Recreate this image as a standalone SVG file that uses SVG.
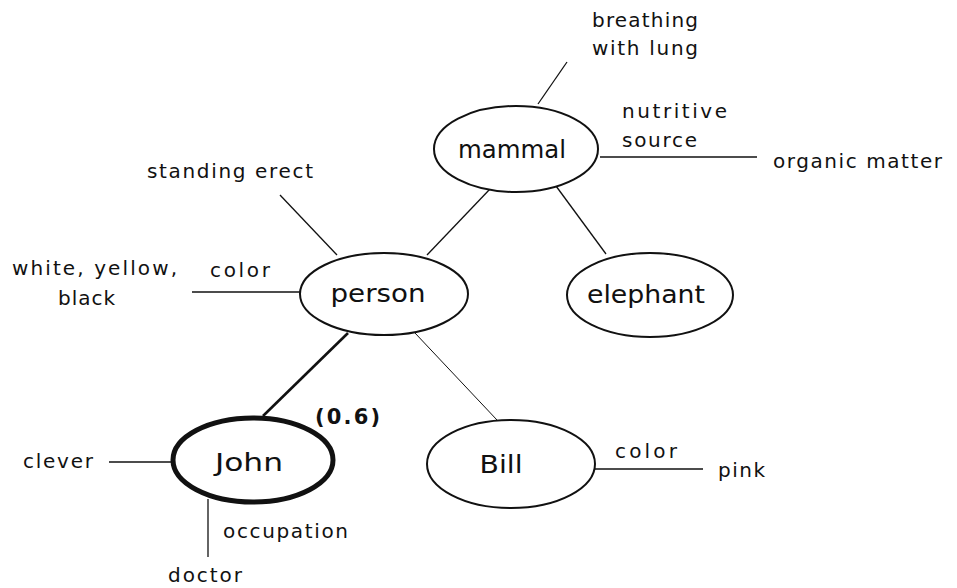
<svg xmlns="http://www.w3.org/2000/svg" width="957" height="588" viewBox="0 0 957 588">
  <style>
    text { font-family: "DejaVu Sans", "Liberation Sans", sans-serif; fill: #111; }
    .lbl { font-size: 20px; }
    .name { font-size: 25px; text-anchor: middle; dominant-baseline: central; }
    .node { fill: #fff; stroke: #111; stroke-width: 2; }
    .link { stroke: #111; stroke-width: 1.3; fill: none; }
  </style>
  <rect width="957" height="588" fill="#fff"/>

  <!-- connectors -->
  <g id="connectors">
    <line class="link" x1="567" y1="62" x2="538" y2="104"/>
    <line class="link" x1="600" y1="157" x2="757" y2="157"/>
    <line class="link" x1="490" y1="189" x2="427" y2="255"/>
    <line class="link" x1="556" y1="186" x2="606" y2="254"/>
    <line class="link" x1="280" y1="195" x2="337" y2="255"/>
    <line class="link" x1="192" y1="292" x2="300" y2="292"/>
    <line class="link" x1="348" y1="333" x2="263" y2="416" style="stroke-width:2.6"/>
    <line class="link" x1="415" y1="333" x2="497" y2="420" style="stroke-width:1"/>
    <line class="link" x1="109" y1="462" x2="172" y2="462"/>
    <line class="link" x1="208" y1="499" x2="208" y2="557"/>
    <line class="link" x1="594" y1="469" x2="703" y2="469"/>
  </g>

  <g id="mammal">
    <ellipse class="node" cx="516" cy="149" rx="82" ry="43"/>
    <text class="name" x="512" y="149" textLength="108" lengthAdjust="spacingAndGlyphs">mammal</text>
  </g>
  <g id="person">
    <ellipse class="node" cx="384" cy="294" rx="84" ry="41"/>
    <text class="name" x="378" y="293" textLength="95" lengthAdjust="spacingAndGlyphs">person</text>
  </g>
  <g id="elephant">
    <ellipse class="node" cx="650" cy="295" rx="83" ry="42"/>
    <text class="name" x="646" y="294" textLength="118" lengthAdjust="spacingAndGlyphs">elephant</text>
  </g>
  <g id="john">
    <ellipse class="node" cx="253" cy="460" rx="80" ry="42" style="stroke-width:5"/>
    <text class="name" x="249" y="462" textLength="68" lengthAdjust="spacingAndGlyphs">John</text>
  </g>
  <g id="bill">
    <ellipse class="node" cx="511" cy="464" rx="84" ry="44"/>
    <text class="name" x="501" y="464" textLength="43" lengthAdjust="spacingAndGlyphs">Bill</text>
  </g>

  <!-- attribute labels -->
  <g id="labels">
    <text class="lbl" x="592" y="27" textLength="106">breathing</text>
    <text class="lbl" x="592" y="55" textLength="106">with lung</text>
    <text class="lbl" x="622" y="118" textLength="105">nutritive</text>
    <text class="lbl" x="622" y="147" textLength="75">source</text>
    <text class="lbl" x="773" y="168" textLength="169">organic matter</text>
    <text class="lbl" x="147" y="178" textLength="166">standing erect</text>
    <text class="lbl" x="12" y="275" textLength="165">white, yellow,</text>
    <text class="lbl" x="58" y="305" textLength="57">black</text>
    <text class="lbl" x="210" y="277" textLength="60">color</text>
    <text class="lbl" x="315" y="424" textLength="65" style="font-size:21px;font-weight:bold">(0.6)</text>
    <text class="lbl" x="23" y="468" textLength="70">clever</text>
    <text class="lbl" x="223" y="538" textLength="125">occupation</text>
    <text class="lbl" x="168" y="582" textLength="74">doctor</text>
    <text class="lbl" x="615" y="458" textLength="62">color</text>
    <text class="lbl" x="718" y="477" textLength="47">pink</text>
  </g>
</svg>
